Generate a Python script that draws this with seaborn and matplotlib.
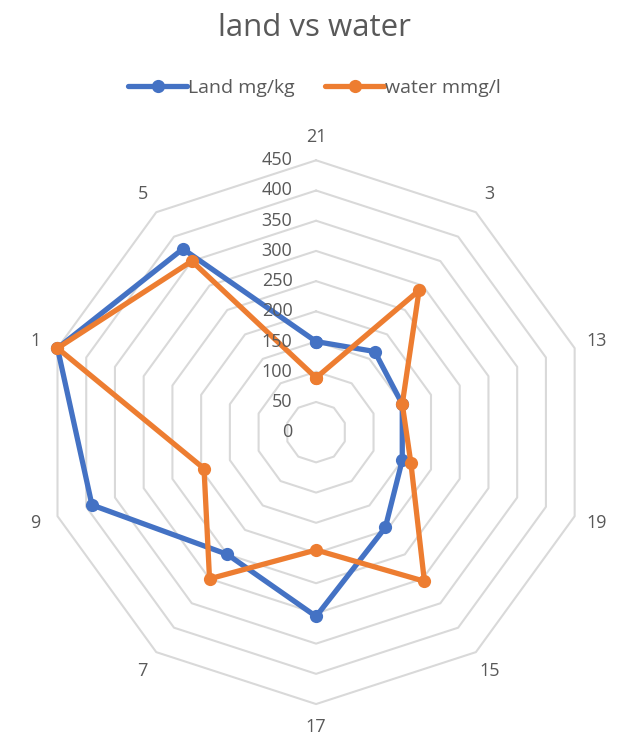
import numpy as np
import pandas as pd
import matplotlib
matplotlib.use('Agg')
import matplotlib.pyplot as plt
import seaborn as sns
from matplotlib.transforms import offset_copy
from matplotlib.lines import Line2D

CATEGORIES = ['21', '3', '13', '19', '15', '17', '7', '9', '1', '5']
LAND = [150, 165, 150, 150, 195, 305, 250, 390, 450, 375]
WATER = [90, 290, 150, 165, 305, 195, 300, 195, 450, 350]
SERIES = ['Land mg/kg', 'water mmg/l']
RTICKS = [0, 50, 100, 150, 200, 250, 300, 350, 400, 450]

BLUE = '#4472C4'
ORANGE = '#ED7D31'
GRID = '#D9D9D9'
TXT = '#595959'

sns.set_theme(style='white')
plt.rcParams['font.family'] = ['Open Sans', 'DejaVu Sans']

n = len(CATEGORIES)
angles = np.arange(n) * 2 * np.pi / n

# closed loops for each series
rows = []
for name, vals in zip(SERIES, [LAND, WATER]):
    for i in list(range(n)) + [0]:
        rows.append({'theta': angles[i], 'value': vals[i], 'series': name})
df = pd.DataFrame(rows)

fig = plt.figure(figsize=(6.29, 7.49), dpi=100)
ax = fig.add_axes([0.07, 0.06, 0.865, 0.726], projection='polar')
ax.set_theta_offset(np.pi / 2)
ax.set_theta_direction(-1)
ax.set_ylim(0, 450)
ax.grid(False)
ax.spines['polar'].set_visible(False)
ax.set_xticks([])
ax.set_yticks([])

# decagon gridlines
closed = np.append(angles, angles[0])
for r in RTICKS[1:]:
    ax.plot(closed, [r] * (n + 1), color=GRID, lw=1.5, zorder=1, clip_on=False)

sns.lineplot(data=df, x='theta', y='value', hue='series', sort=False,
             palette=[BLUE, ORANGE], marker='o', markersize=9.5,
             markeredgewidth=0, linewidth=3.8, estimator=None, ax=ax,
             legend=False, zorder=3)
for l in ax.lines:
    l.set_clip_on(False)

# radial labels
tr = offset_copy(ax.transData, fig=fig, x=-17, y=0, units='points')
for r in RTICKS:
    ax.text(0, r, str(r), transform=tr, ha='right', va='center',
            fontsize=13, color=TXT)

# category labels
for a, c in zip(angles, CATEGORIES):
    ax.text(a, 488, c, ha='center', va='center', fontsize=13, color=TXT)

ax.set_xlabel('')
ax.set_ylabel('')

fig.text(0.5, 0.963, 'land vs water', ha='center', va='center',
         fontsize=22.5, color=TXT)

handles = [Line2D([], [], color=c, lw=3.8, marker='o', markersize=9.5,
                  markeredgewidth=0) for c in [BLUE, ORANGE]]
fig.legend(handles, SERIES, loc='center', bbox_to_anchor=(0.5, 0.883),
           ncol=2, frameon=False, fontsize=14, handlelength=3.0,
           handletextpad=0.05, columnspacing=1.6, labelcolor=TXT)

fig.savefig('out.png', dpi=100)
